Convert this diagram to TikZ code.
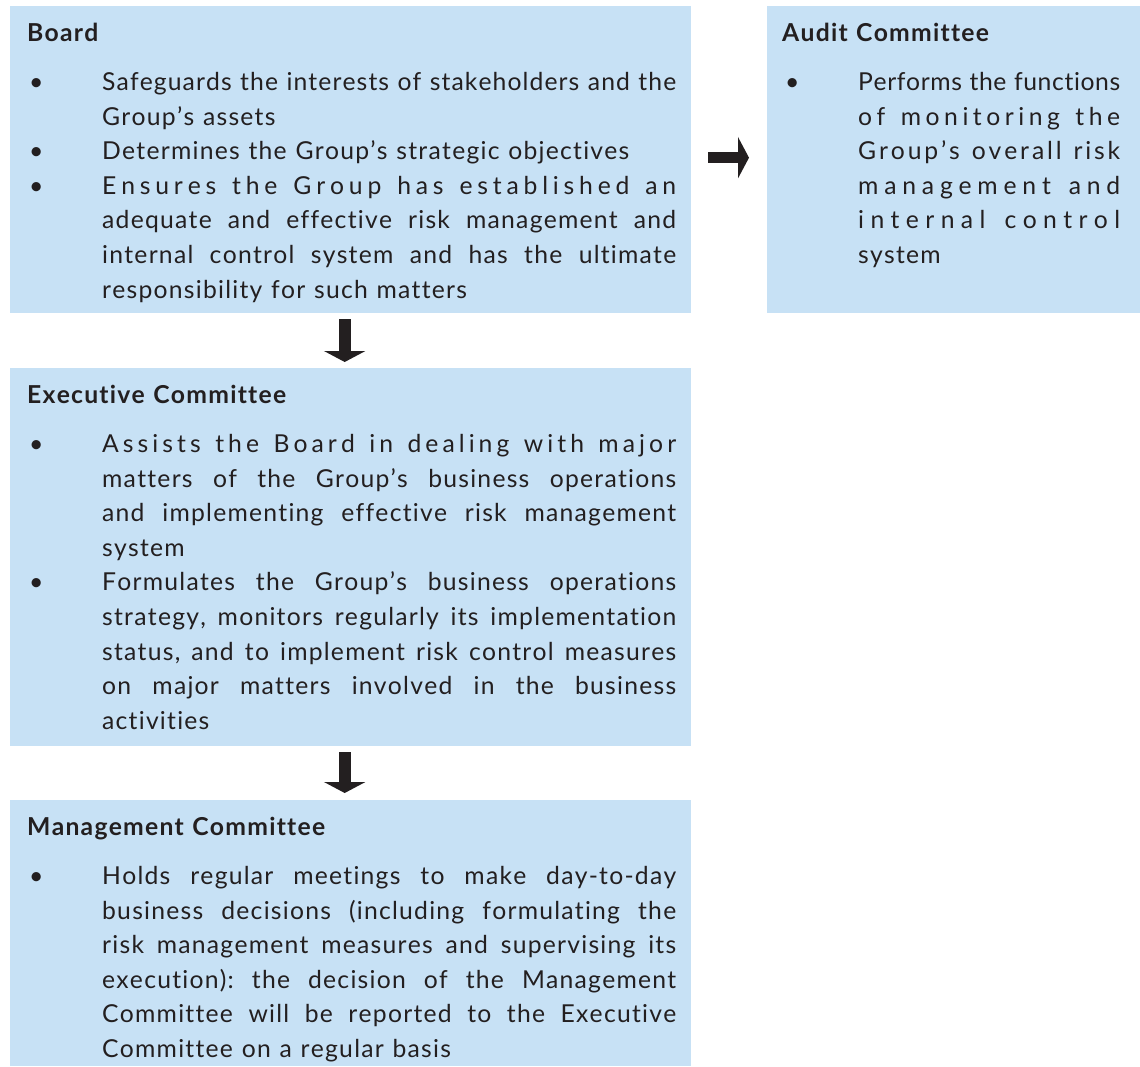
\documentclass[tikz,border=0pt]{standalone}
\usepackage{fontspec}
\setmainfont{Lato}
\usetikzlibrary{arrows.meta}
\definecolor{boxblue}{RGB}{199,225,245}
\definecolor{ink}{RGB}{35,31,32}

\ExplSyntaxOn
\seq_new:N \l_my_words_seq
\bool_new:N \l_my_first_bool
\bool_new:N \l_my_firstc_bool
\cs_new_protected:Npn \my_track:nnn #1#2#3
 {
  \seq_set_split:Nnn \l_my_words_seq { ~ } { #3 }
  \bool_set_true:N \l_my_first_bool
  \seq_map_inline:Nn \l_my_words_seq
   {
    \bool_if:NF \l_my_first_bool { \hskip #2 \relax }
    \bool_set_false:N \l_my_first_bool
    \bool_set_true:N \l_my_firstc_bool
    \tl_map_inline:nn { ##1 }
     {
      \bool_if:NF \l_my_firstc_bool { \hskip #1 \relax }
      \bool_set_false:N \l_my_firstc_bool
      ####1
     }
   }
 }
\NewDocumentCommand \mytrack { m m m } { \my_track:nnn { #1 } { #2 } { #3 } }
\ExplSyntaxOff

% justified by word spaces, fixed tracking
\newcommand\jl[2]{\hbox to #1{\mytrack{0.05em plus 1pt minus 0.03em}{\dimexpr\fontdimen2\font+0.1em\relax plus 1fil minus 0.06em}{#2}}}
% justified by letter spacing
\newcommand\lsl[2]{\hbox to #1{\mytrack{0.05em plus 1fil minus 0.03em}{\dimexpr\fontdimen2\font+0.1em\relax plus 2fil}{#2}}}
% natural width, fixed tracking
\newcommand\nat[1]{\mytrack{0.05em}{\dimexpr\fontdimen2\font+0.1em\relax}{#1}}

\newcommand\blt{\hbox to 75pt{\hskip2pt\textbullet\hfil}}
\newcommand\ind{\hskip75pt}
\newcommand\ablt{\hbox to 76pt{\hskip3pt\textbullet\hfil}}
\newcommand\aind{\hskip76pt}
\newcommand\boxset{\baselineskip=34.6pt\lineskiplimit=-100pt\lineskip=0pt}

\tikzset{
  bluebox/.style={fill=boxblue, draw=none, inner sep=0pt, anchor=north west},
  boxtext/.style={anchor=base west, inner sep=0pt, text=ink, font=\fontsize{24.7}{34.6}\selectfont},
  blockarrow/.style={draw=ink, line width=#1, -{Triangle[width=41pt,length=11pt]}},
}

\begin{document}
\begin{tikzpicture}[x=1pt,y=-1pt]
\useasboundingbox (0,0) rectangle (1140,1066);

\node[bluebox, minimum width=681pt, minimum height=307pt] (board) at (10,6) {};
\node[bluebox, minimum width=373pt, minimum height=307pt] (audit) at (767,6) {};
\node[bluebox, minimum width=681pt, minimum height=378pt] (exec) at (10,368) {};
\node[bluebox, minimum width=681pt, minimum height=266pt] (mgmt) at (10,800) {};

\node[boxtext] (boardtext) at (27,41) {\vtop{\boxset
\hbox{\bfseries\nat{Board}}\vskip14.9pt
\hbox{\blt\jl{574pt}{Safeguards the interests of stakeholders and the}}
\hbox{\ind\nat{Group’s assets}}
\hbox{\blt\nat{Determines the Group’s strategic objectives}}
\hbox{\blt\lsl{574pt}{Ensures the Group has established an}}
\hbox{\ind\jl{574pt}{adequate and effective risk management and}}
\hbox{\ind\jl{574pt}{internal control system and has the ultimate}}
\hbox{\ind\nat{responsibility for such matters}}}};

\node[boxtext] (audittext) at (782,41) {\vtop{\boxset
\hbox{\bfseries\nat{Audit Committee}}\vskip14.9pt
\hbox{\ablt\jl{262pt}{Performs the functions}}
\hbox{\aind\lsl{262pt}{of monitoring the}}
\hbox{\aind\lsl{262pt}{Group’s overall risk}}
\hbox{\aind\lsl{262pt}{management and}}
\hbox{\aind\lsl{262pt}{internal control}}
\hbox{\aind\nat{system}}}};

\node[boxtext] (exectext) at (27,403) {\vtop{\boxset
\hbox{\bfseries\nat{Executive Committee}}\vskip14.9pt
\hbox{\blt\lsl{574pt}{Assists the Board in dealing with major}}
\hbox{\ind\jl{574pt}{matters of the Group’s business operations}}
\hbox{\ind\jl{574pt}{and implementing effective risk management}}
\hbox{\ind\nat{system}}
\hbox{\blt\jl{574pt}{Formulates the Group’s business operations}}
\hbox{\ind\jl{574pt}{strategy, monitors regularly its implementation}}
\hbox{\ind\jl{574pt}{status, and to implement risk control measures}}
\hbox{\ind\jl{574pt}{on major matters involved in the business}}
\hbox{\ind\nat{activities}}}};

\node[boxtext] (mgmttext) at (27,835) {\vtop{\boxset
\hbox{\bfseries\nat{Management Committee}}\vskip14.9pt
\hbox{\blt\jl{574pt}{Holds regular meetings to make day-to-day}}
\hbox{\ind\jl{574pt}{business decisions (including formulating the}}
\hbox{\ind\jl{574pt}{risk management measures and supervising its}}
\hbox{\ind\jl{574pt}{execution): the decision of the Management}}
\hbox{\ind\jl{574pt}{Committee will be reported to the Executive}}
\hbox{\ind\nat{Committee on a regular basis}}}};

\draw[blockarrow=11pt, shorten <=17pt, shorten >=18pt] ([yshift=2pt]board.east) -- ([yshift=2pt]audit.west);
\draw[blockarrow=12pt, shorten <=6pt, shorten >=6pt] ([xshift=-6pt]board.south) -- ([xshift=-6pt]exec.north);
\draw[blockarrow=12pt, shorten <=6pt, shorten >=7pt] ([xshift=-6pt]exec.south) -- ([xshift=-6pt]mgmt.north);
\end{tikzpicture}
\end{document}
